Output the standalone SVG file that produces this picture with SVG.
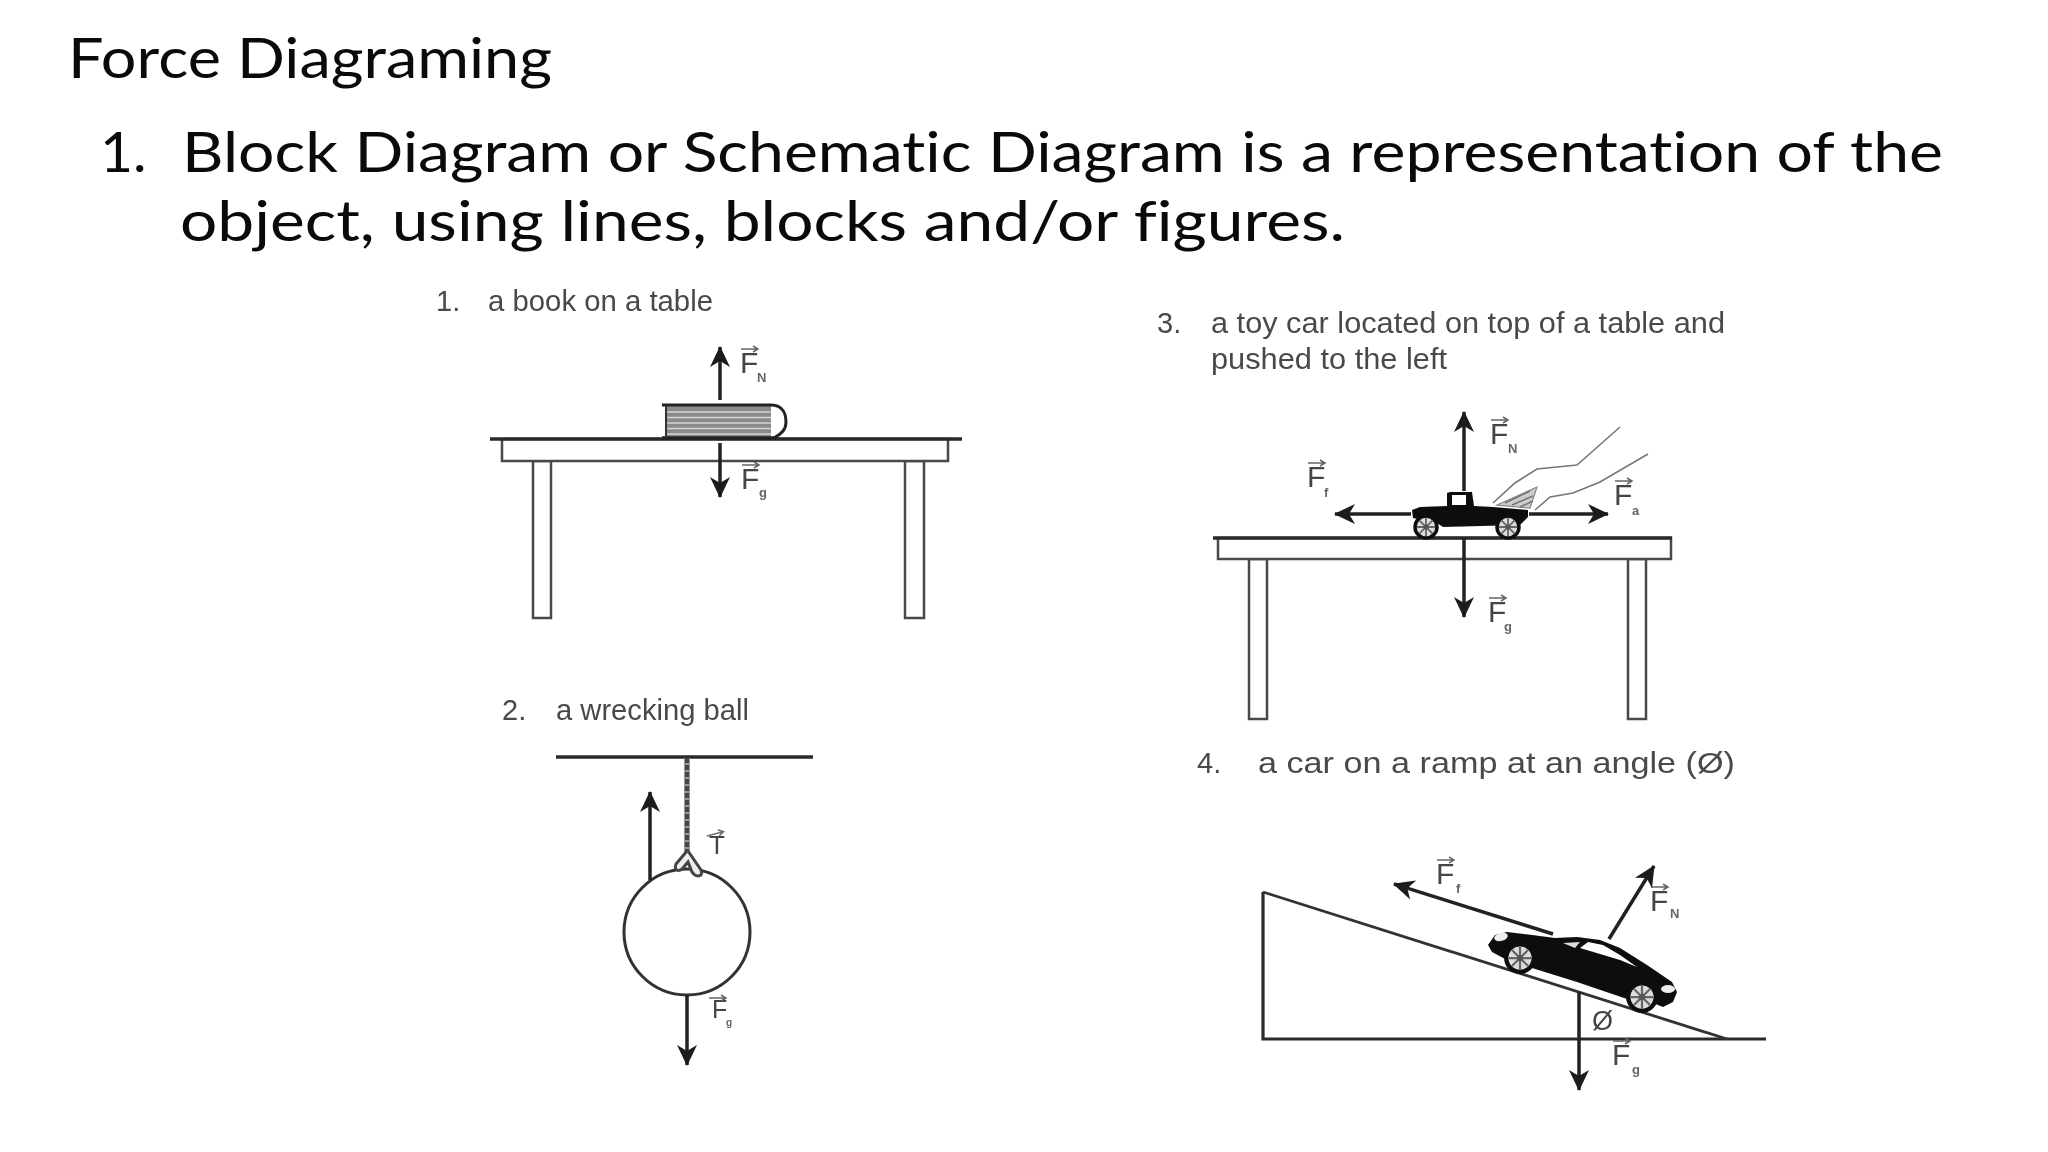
<svg xmlns="http://www.w3.org/2000/svg" xmlns:xlink="http://www.w3.org/1999/xlink" width="2048" height="1152" viewBox="0 0 2048 1152">
<style>
.h{font-family:"Lato","Open Sans",sans-serif;font-size:57px;fill:#0a0a0a;font-variant-ligatures:none}
.c{font-family:"Liberation Sans",Arial,sans-serif;font-size:29px;fill:#4a4a4a}
.f{font-family:"Liberation Sans",Arial,sans-serif;font-size:30px;fill:#444}
.s{font-family:"Liberation Sans",Arial,sans-serif;font-size:13px;fill:#666;font-weight:bold}
.top{stroke:#2a2a2a;stroke-width:3.5;fill:none}
.thin{stroke:#4a4a4a;stroke-width:2.5;fill:#fff}
.ar{stroke:#222;stroke-width:3.5;fill:none;marker-end:url(#head)}
.fine{stroke:#777;stroke-width:1.6;fill:none}
.v{stroke:#666;stroke-width:1.5;fill:none}
.scan{filter:url(#soft)}
</style>
<defs>
<filter id="soft" x="-5%" y="-5%" width="110%" height="110%"><feGaussianBlur stdDeviation="0.55"/></filter>
<marker id="head" markerUnits="userSpaceOnUse" markerWidth="24" markerHeight="24" refX="20" refY="11" orient="auto">
<path d="M0,1 L21,11 L0,21 L6,11 Z" fill="#1c1c1c"/>
</marker>
<g id="vec"><path d="M0,0H17M12,-3L17,0L12,3"/></g>
<g id="wheel">
<circle r="11" fill="#ddd" stroke="#111" stroke-width="3.5"/>
<path d="M-9,0H9M0,-9V9M-6.4,-6.4L6.4,6.4M-6.4,6.4L6.4,-6.4" stroke="#666" stroke-width="1.8"/>
<circle r="2.5" fill="#555"/>
</g>
</defs>
<rect width="2048" height="1152" fill="#fff"/>

<g id="title">
<text class="h" x="68" y="78" textLength="484" lengthAdjust="spacingAndGlyphs">Force Diagraming</text>
<text class="h" x="100" y="172">1.</text>
<text class="h" x="182" y="172" textLength="1761" lengthAdjust="spacingAndGlyphs">Block Diagram or Schematic Diagram is a representation of the</text>
<text class="h" x="180" y="241" textLength="1165" lengthAdjust="spacingAndGlyphs">object, using lines,  blocks and/or figures.</text>
</g>

<g id="book-on-table" class="scan">
<text class="c" x="436" y="311">1.</text>
<text class="c" x="488" y="311" textLength="225" lengthAdjust="spacingAndGlyphs">a book on a table</text>
<g id="table1">
<rect class="thin" x="533" y="461" width="18" height="157"/>
<rect class="thin" x="905" y="461" width="19" height="157"/>
<rect class="thin" x="502" y="439" width="446" height="22"/>
<path class="top" d="M490,439H962"/>
</g>
<g id="book">
<rect x="666" y="406" width="105" height="31" fill="#8a8a8a"/>
<path d="M666,412H771M666,417.5H771M666,423H771M666,428.5H771M666,434H771" stroke="#d6d6d6" stroke-width="1.6"/>
<path d="M662,405H771C783,405 786,414 786,422C786,430 781,434 774,438" fill="none" stroke="#222" stroke-width="3"/>
<path d="M662,438H776" stroke="#222" stroke-width="3.5"/>
<path d="M666,405V438" stroke="#333" stroke-width="2"/>
</g>
<g id="book-labels">
<text class="f" x="740" y="373">F</text><text class="s" x="757" y="382">N</text>
<use href="#vec" x="741" y="349" class="v"/>
<text class="f" x="741" y="489">F</text><text class="s" x="759" y="497">g</text>
<use href="#vec" x="742" y="465" class="v"/>
</g>
</g>

<g id="wrecking-ball" class="scan">
<text class="c" x="502" y="720">2.</text>
<text class="c" x="556" y="720" textLength="193" lengthAdjust="spacingAndGlyphs">a wrecking ball</text>
<path d="M556,757H813" stroke="#2a2a2a" stroke-width="3.5"/>
<path d="M687,758V853" stroke="#999" stroke-width="6"/>
<path d="M687,758V853" stroke="#444" stroke-width="4" stroke-dasharray="5 2"/>
<circle cx="687" cy="932" r="63" fill="#fff" stroke="#333" stroke-width="3"/>
<path d="M687,851L676,864C673,871 680,872 683,868L688,862L692,872C696,878 704,877 701,870L688,851" fill="#eee" stroke="#444" stroke-width="3"/>
<text class="f" x="709" y="854" style="font-size:26px">T</text>
<use href="#vec" x="707" y="836" class="v" transform="rotate(-15 707 836)"/>
<text class="f" x="712" y="1018" style="font-size:25px">F</text><text class="s" x="726" y="1026" style="font-size:10px">g</text>
<use href="#vec" x="709" y="998" class="v"/>
</g>

<g id="toy-car-on-table" class="scan">
<text class="c" x="1157" y="333">3.</text>
<text class="c" x="1211" y="333" textLength="514" lengthAdjust="spacingAndGlyphs">a toy car located on top of a table and</text>
<text class="c" x="1211" y="369" textLength="236" lengthAdjust="spacingAndGlyphs">pushed to the left</text>
<g id="table3">
<rect class="thin" x="1249" y="559" width="18" height="160"/>
<rect class="thin" x="1628" y="559" width="18" height="160"/>
<rect class="thin" x="1218" y="538" width="453" height="21"/>
<path class="top" d="M1213,538H1672"/>
</g>
<g id="truck">
<path d="M1412,510L1420,507L1447,506L1447,493L1450,492L1472,492L1474,506L1493,507L1528,510L1528,517L1520,525L1443,527L1437,523L1413,518Z" fill="#0c0c0c"/>
<rect x="1452" y="495" width="14" height="10" fill="#fff"/>
<use href="#wheel" x="1426" y="527"/>
<use href="#wheel" x="1508" y="527"/>
</g>
<g id="hand">
<path class="fine" d="M1620,427L1577,465L1537,469L1515,483L1493,503"/>
<path class="fine" d="M1648,454L1600,482L1573,493L1550,497L1535,510"/>
<path d="M1497,505L1537,487L1530,508Z" fill="#ccc" stroke="#888" stroke-width="1.2"/>
<path class="fine" d="M1505,503L1530,491M1512,505L1533,496M1520,507L1533,501"/>
</g>
<g id="truck-labels">
<text class="f" x="1490" y="444">F</text><text class="s" x="1508" y="453">N</text>
<use href="#vec" x="1491" y="420" class="v"/>
<text class="f" x="1307" y="487">F</text><text class="s" x="1324" y="497">f</text>
<use href="#vec" x="1308" y="463" class="v"/>
<text class="f" x="1614" y="505">F</text><text class="s" x="1632" y="515">a</text>
<use href="#vec" x="1615" y="481" class="v"/>
<text class="f" x="1488" y="622">F</text><text class="s" x="1504" y="631">g</text>
<use href="#vec" x="1489" y="598" class="v"/>
</g>
</g>

<g id="car-on-ramp" class="scan">
<text class="c" x="1197" y="773">4.</text>
<text class="c" x="1258" y="773" textLength="477" lengthAdjust="spacingAndGlyphs">a car on a ramp at an angle (Ø)</text>
<path d="M1263,892V1039H1766" fill="none" stroke="#2a2a2a" stroke-width="3.2"/>
<path d="M1263,892L1727,1039" fill="none" stroke="#333" stroke-width="2.8"/>
<g id="car">
<path d="M1488,945L1495,935L1507,932L1532,935L1555,938L1577,937L1600,940L1620,948L1647,965L1672,982L1677,992L1673,1002L1663,1007L1653,1003L1630,1000L1577,982L1532,968L1507,960L1492,952Z" fill="#0a0a0a"/>
<path d="M1580,948L1588,942L1603,945L1620,955L1637,967L1620,960Z" fill="#fff"/>
<path d="M1563,943L1580,942L1575,948Z" fill="#ddd"/>
<ellipse cx="1501" cy="937" rx="7" ry="4" fill="#eee" transform="rotate(-15 1501 937)"/>
<ellipse cx="1668" cy="989" rx="7" ry="4" fill="#eee"/>
<use href="#wheel" x="1520" y="958" transform="translate(1520 958) scale(1.25) translate(-1520 -958)"/>
<use href="#wheel" x="1642" y="997" transform="translate(1642 997) scale(1.25) translate(-1642 -997)"/>
</g>
<text class="f" x="1592" y="1030" style="font-size:27px;fill:#444">Ø</text>
<g id="ramp-labels">
<text class="f" x="1436" y="884">F</text><text class="s" x="1456" y="893">f</text>
<use href="#vec" x="1437" y="860" class="v"/>
<text class="f" x="1650" y="911">F</text><text class="s" x="1670" y="918">N</text>
<use href="#vec" x="1651" y="887" class="v"/>
<text class="f" x="1612" y="1065">F</text><text class="s" x="1632" y="1074">g</text>
<use href="#vec" x="1613" y="1041" class="v"/>
</g>
</g>

<g id="connectors" class="scan">
<path class="ar" d="M720,400V347"/>
<path class="ar" d="M720,443V497"/>
<path class="ar" d="M650,880V792"/>
<path class="ar" d="M687,995V1065"/>
<path class="ar" d="M1464,491V412"/>
<path class="ar" d="M1464,538V617"/>
<path class="ar" d="M1411,514H1335"/>
<path class="ar" d="M1529,514H1608"/>
<path class="ar" d="M1553,934L1394,884"/>
<path class="ar" d="M1609,939L1654,866"/>
<path class="ar" d="M1579,992V1090"/>
</g>
</svg>
